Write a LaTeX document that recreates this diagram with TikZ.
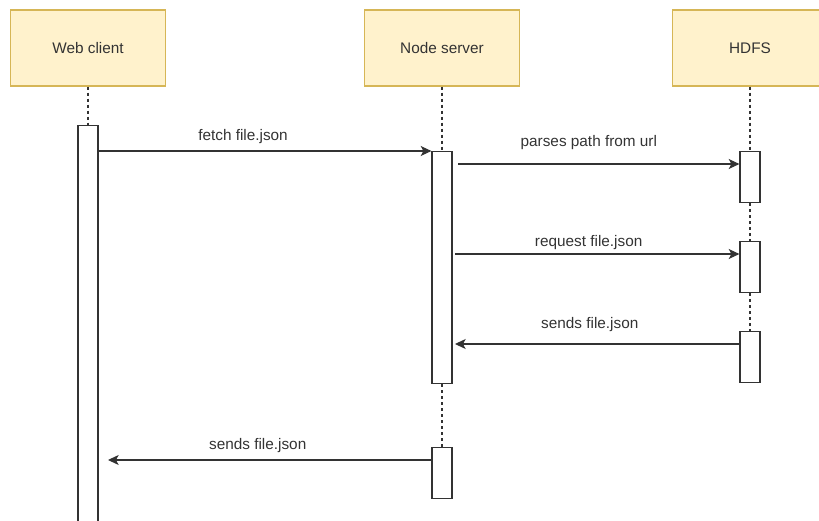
\documentclass[tikz,border=0pt]{standalone}
\usepackage{fontspec}
\setmainfont{Liberation Sans}
\usetikzlibrary{arrows.meta}
\definecolor{hdrfill}{HTML}{FFF2CC}
\definecolor{hdrdraw}{HTML}{D6B656}
\definecolor{ink}{HTML}{333333}
\tikzset{
  >={Stealth[length=8pt,width=7.5pt,inset=2pt]},
  actor/.style={draw=hdrdraw, fill=hdrfill, line width=0.8pt, minimum width=116.25pt, minimum height=57pt, inner sep=0pt, text=ink, font=\fontsize{11.5}{13}\selectfont},
  actbar/.style={draw=ink, fill=white, line width=0.9pt, minimum width=15pt, inner sep=0pt},
  life/.style={draw=ink, line width=0.9pt, dash pattern=on 2.25pt off 2.25pt},
  msg/.style={->, draw=ink, line width=0.8pt},
  lbl/.style={text=ink, font=\fontsize{11.5}{13}\selectfont, inner sep=0pt},
}

\begin{document}
\begin{tikzpicture}[x=0.75pt, y=-0.75pt]
  \clip (0,0) rectangle (819,521);

  \node[actor] (web) at (88,48) {Web client};
  \node[actor] (srv) at (442,48) {Node server};
  \node[actor] (hdfs) at (750,48) {HDFS};

  % activation bars
  \node[actbar, minimum height=311.25pt, anchor=north] (web1) at (88,125) {};
  \node[actbar, minimum height=174pt, anchor=north] (srv1) at (442,151) {};
  \node[actbar, minimum height=38.25pt, anchor=north] (srv2) at (442,447) {};
  \node[actbar, minimum height=38.25pt, anchor=north] (hd1) at (750,151) {};
  \node[actbar, minimum height=38.25pt, anchor=north] (hd2) at (750,241) {};
  \node[actbar, minimum height=38.25pt, anchor=north] (hd3) at (750,331) {};

  \draw[life] (web.south) -- (web1.north);
  \draw[life] (srv.south) -- (srv1.north);
  \draw[life] (srv1.south) -- (srv2.north);
  \draw[life] (hdfs.south) -- (hd1.north);
  \draw[life] (hd1.south) -- (hd2.north);
  \draw[life] (hd2.south) -- (hd3.north);

  \coordinate (p1) at (458,164);
  \coordinate (p2) at (455,254);
  \coordinate (p3) at (455,344);
  \coordinate (p4) at (108,460);

  \draw[msg] (srv1.north west -| web1.east) -- node[lbl, pos=0.434, yshift=10.5pt] {fetch file.json} (srv1.north west);
  \draw[msg] (p1) -- node[lbl, pos=0.465, yshift=15.75pt] {parses path from url} (p1 -| hd1.west);
  \draw[msg] (p2) -- node[lbl, pos=0.47, yshift=8.25pt] {request file.json} (p2 -| hd2.west);
  \draw[msg] (p3 -| hd3.west) -- node[lbl, pos=0.526, yshift=14.25pt] {sends file.json} (p3);
  \draw[msg] (p4 -| srv2.west) -- node[lbl, pos=0.537, yshift=10.5pt] {sends file.json} (p4);
\end{tikzpicture}
\end{document}
